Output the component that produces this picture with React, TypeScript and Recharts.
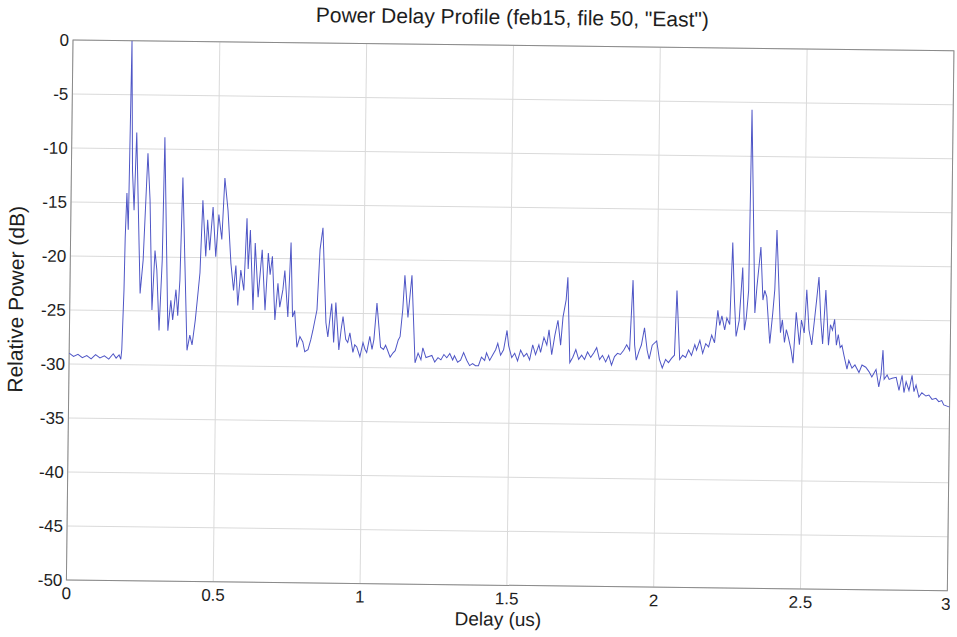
import React from 'react';
import { LineChart, Line, XAxis, YAxis, CartesianGrid, ReferenceArea, Label } from 'recharts';

const delayUs = [
  0.000, 0.015, 0.030, 0.045, 0.060, 0.075, 0.090, 0.105, 0.120, 0.135, 0.150, 0.160, 0.170, 0.176, 0.179,
  0.184, 0.186, 0.190, 0.196, 0.201, 0.208, 0.215, 0.221, 0.239, 0.248, 0.260, 0.269, 0.280, 0.288, 0.295,
  0.305, 0.313, 0.317, 0.335, 0.344, 0.351, 0.361, 0.368, 0.374, 0.380, 0.390, 0.401, 0.410, 0.418, 0.428,
  0.437, 0.442, 0.449, 0.461, 0.466, 0.474, 0.484, 0.495, 0.504, 0.515, 0.523, 0.535, 0.547, 0.557, 0.564,
  0.572, 0.581, 0.592, 0.600, 0.606, 0.612, 0.624, 0.629, 0.641, 0.653, 0.665, 0.674, 0.681, 0.688, 0.699,
  0.708, 0.715, 0.725, 0.731, 0.743, 0.751, 0.759, 0.766, 0.775, 0.785, 0.795, 0.802, 0.813, 0.822, 0.829,
  0.842, 0.850, 0.859, 0.873, 0.880, 0.886, 0.892, 0.900, 0.906, 0.918, 0.925, 0.931, 0.941, 0.948, 0.955,
  0.966, 0.972, 0.979, 0.990, 1.000, 1.007, 1.013, 1.023, 1.031, 1.037, 1.046, 1.060, 1.070, 1.077, 1.083,
  1.093, 1.103, 1.110, 1.120, 1.126, 1.134, 1.140, 1.152, 1.164, 1.178, 1.188, 1.198, 1.204, 1.215, 1.225,
  1.235, 1.245, 1.256, 1.266, 1.276, 1.286, 1.296, 1.306, 1.312, 1.323, 1.333, 1.343, 1.354, 1.364, 1.374,
  1.384, 1.394, 1.404, 1.415, 1.421, 1.432, 1.442, 1.452, 1.459, 1.469, 1.479, 1.490, 1.496, 1.507, 1.517,
  1.527, 1.537, 1.548, 1.558, 1.568, 1.578, 1.588, 1.599, 1.605, 1.616, 1.626, 1.633, 1.643, 1.653, 1.663,
  1.673, 1.680, 1.690, 1.695, 1.705, 1.715, 1.725, 1.735, 1.745, 1.755, 1.765, 1.776, 1.786, 1.796, 1.806,
  1.816, 1.827, 1.837, 1.847, 1.857, 1.867, 1.877, 1.888, 1.898, 1.908, 1.917, 1.925, 1.931, 1.941, 1.948,
  1.958, 1.968, 1.975, 1.985, 2.000, 2.010, 2.020, 2.031, 2.041, 2.051, 2.061, 2.067, 2.079, 2.089, 2.099,
  2.109, 2.119, 2.130, 2.136, 2.147, 2.157, 2.167, 2.177, 2.187, 2.197, 2.207, 2.214, 2.221, 2.231, 2.238,
  2.248, 2.255, 2.263, 2.270, 2.280, 2.290, 2.298, 2.304, 2.311, 2.315, 2.333, 2.339, 2.351, 2.360, 2.366,
  2.373, 2.385, 2.394, 2.400, 2.405, 2.421, 2.427, 2.435, 2.441, 2.448, 2.458, 2.465, 2.474, 2.486, 2.492,
  2.502, 2.509, 2.518, 2.528, 2.537, 2.543, 2.550, 2.558, 2.565, 2.574, 2.585, 2.591, 2.598, 2.605, 2.612,
  2.618, 2.625, 2.631, 2.638, 2.649, 2.655, 2.666, 2.676, 2.690, 2.700, 2.713, 2.724, 2.734, 2.748, 2.758,
  2.765, 2.771, 2.776, 2.786, 2.793, 2.803, 2.817, 2.827, 2.837, 2.844, 2.851, 2.861, 2.871, 2.878, 2.885,
  2.895, 2.905, 2.919, 2.929, 2.940, 2.953, 2.963, 2.973, 2.980, 3.000,
];

const powerDb = [
  -29.0, -29.3, -29.1, -29.4, -29.2, -29.5, -29.1, -29.4, -29.2, -29.5, -29.0, -29.4, -29.1, -29.5, -28.6,
  -23.1, -18.2, -14.1, -17.5, 0.0, -12.0, -15.7, -8.5, -23.4, -20.3, -10.4, -14.7, -24.9, -19.4, -21.2,
  -26.8, -20.3, -8.9, -26.8, -24.0, -25.8, -23.0, -25.4, -22.1, -12.6, -20.3, -28.6, -27.2, -28.1, -25.8,
  -23.0, -21.4, -14.7, -19.9, -16.5, -19.3, -15.3, -19.9, -16.0, -18.3, -12.6, -15.6, -20.5, -23.0, -20.7,
  -24.4, -21.1, -23.0, -16.3, -21.0, -17.4, -24.8, -18.6, -23.6, -19.2, -24.8, -19.5, -21.5, -19.8, -25.7,
  -22.3, -24.5, -22.9, -21.1, -25.4, -18.5, -25.4, -24.8, -28.2, -27.2, -27.7, -28.6, -28.4, -27.5, -26.6,
  -24.7, -19.1, -17.1, -25.9, -27.2, -25.6, -24.1, -27.7, -24.0, -28.4, -26.5, -25.3, -27.4, -27.7, -26.8,
  -28.6, -27.9, -28.1, -29.0, -27.7, -28.3, -28.6, -27.1, -28.3, -27.4, -24.0, -28.1, -28.3, -27.9, -28.3,
  -29.0, -28.6, -28.4, -27.4, -27.1, -24.6, -21.4, -25.3, -21.4, -29.5, -28.6, -29.2, -28.1, -29.0, -28.9,
  -28.8, -29.4, -29.0, -29.2, -28.7, -29.0, -28.6, -29.2, -28.8, -29.4, -29.2, -28.5, -29.2, -29.7, -29.5,
  -29.7, -29.7, -28.9, -29.2, -28.5, -29.2, -28.7, -28.2, -27.6, -28.7, -28.2, -26.4, -27.8, -28.9, -28.5,
  -29.2, -28.2, -28.8, -28.5, -29.1, -27.7, -28.6, -27.7, -28.4, -27.0, -27.7, -26.3, -28.6, -26.8, -25.4,
  -27.7, -25.1, -23.5, -21.4, -29.3, -28.8, -28.1, -29.0, -28.6, -29.0, -28.3, -28.8, -28.4, -27.9, -29.0,
  -28.6, -29.2, -28.6, -29.5, -28.7, -28.4, -28.5, -28.1, -27.6, -28.1, -21.6, -27.6, -29.0, -28.1, -27.6,
  -26.0, -28.1, -28.9, -27.6, -27.2, -28.9, -29.7, -28.9, -29.2, -28.8, -28.5, -22.5, -28.9, -28.5, -28.7,
  -28.0, -28.5, -27.5, -28.0, -27.1, -28.3, -27.4, -27.7, -26.6, -27.3, -24.3, -25.7, -24.8, -26.1, -25.0,
  -25.6, -18.0, -23.3, -26.7, -25.2, -20.3, -26.1, -25.0, -22.4, -5.7, -24.5, -22.1, -18.4, -23.3, -22.4,
  -23.0, -27.3, -24.5, -22.3, -16.8, -26.3, -25.1, -27.2, -26.0, -26.7, -27.9, -29.1, -24.4, -27.4, -25.1,
  -26.3, -22.3, -26.0, -27.4, -24.9, -23.2, -21.1, -25.1, -27.3, -22.3, -27.4, -25.5, -26.0, -25.0, -27.4,
  -26.4, -27.6, -27.4, -28.3, -29.6, -28.8, -29.5, -29.2, -29.9, -29.2, -29.4, -29.8, -30.3, -29.6, -31.2,
  -30.1, -27.8, -30.5, -30.1, -30.5, -30.4, -30.3, -31.5, -30.1, -31.7, -30.7, -31.5, -30.1, -31.6, -31.0,
  -32.1, -31.7, -32.0, -31.9, -32.3, -32.2, -32.5, -32.4, -32.8, -33.0,
];

const xTicks = [0, 0.5, 1, 1.5, 2, 2.5, 3];
const yTicks = [-50, -45, -40, -35, -30, -25, -20, -15, -10, -5, 0];

const titleText = 'Power Delay Profile (feb15, file 50, "East")';
const xLabelText = 'Delay (us)';
const yLabelText = 'Relative Power (dB)';

const data = delayUs.map((d, i) => ({ delay: d, power: powerDb[i] }));

const FONT = '"Liberation Sans", Arial, Helvetica, sans-serif';
const TEXT = '#1e1e1e';

export default function App() {
  return (
    <div style={{ position: 'absolute', left: 0, top: 0, width: 957, height: 637, overflow: 'hidden', background: '#fff' }}>
      <div
        style={{
          position: 'absolute',
          left: 0,
          top: 0,
          width: 957,
          height: 637,
          transform: 'rotate(0.7deg)',
          transformOrigin: '73px 40px',
          fontFamily: FONT,
        }}
      >
        <div
          style={{
            position: 'absolute',
            left: 212,
            width: 600,
            top: 0,
            lineHeight: '24px',
            textAlign: 'center',
            fontSize: 21,
            color: TEXT,
          }}
        >
          {titleText}
        </div>
        <LineChart width={957} height={637} data={data} margin={{ top: 40, right: 3, bottom: 17, left: 13 }}>
          <CartesianGrid stroke="#dadada" strokeWidth={1} horizontalValues={yTicks} verticalValues={xTicks} />
          <XAxis
            dataKey="delay"
            type="number"
            domain={[0, 3]}
            ticks={xTicks}
            allowDataOverflow
            height={40}
            tickLine={false}
            axisLine={false}
            tickSize={5}
            tickMargin={2}
            tick={{ fontSize: 17, fill: TEXT, fontFamily: FONT }}
            label={
              <Label
                content={() => (
                  <text x={505} y={614} textAnchor="middle" dominantBaseline="central" fontSize={19} fill={TEXT} fontFamily={FONT}>
                    {xLabelText}
                  </text>
                )}
              />
            }
          />
          <YAxis
            type="number"
            domain={[-50, 0]}
            ticks={yTicks}
            allowDataOverflow
            width={60}
            tickLine={false}
            axisLine={false}
            tickSize={2}
            tickMargin={2}
            tick={{ fontSize: 17, fill: TEXT, fontFamily: FONT }}
            label={
              <Label
                content={() => (
                  <text
                    x={19}
                    y={300}
                    transform="rotate(-90 19 300)"
                    textAnchor="middle"
                    dominantBaseline="central"
                    fontSize={21}
                    fill={TEXT}
                    fontFamily={FONT}
                  >
                    {yLabelText}
                  </text>
                )}
              />
            }
          />
          <ReferenceArea x1={0} x2={3} y1={-50} y2={0} fill="none" stroke="#8a8a8a" strokeWidth={1} />
          <Line
            type="linear"
            dataKey="power"
            stroke="#4f56c6"
            strokeWidth={1}
            dot={false}
            isAnimationActive={false}
          />
        </LineChart>
      </div>
    </div>
  );
}
